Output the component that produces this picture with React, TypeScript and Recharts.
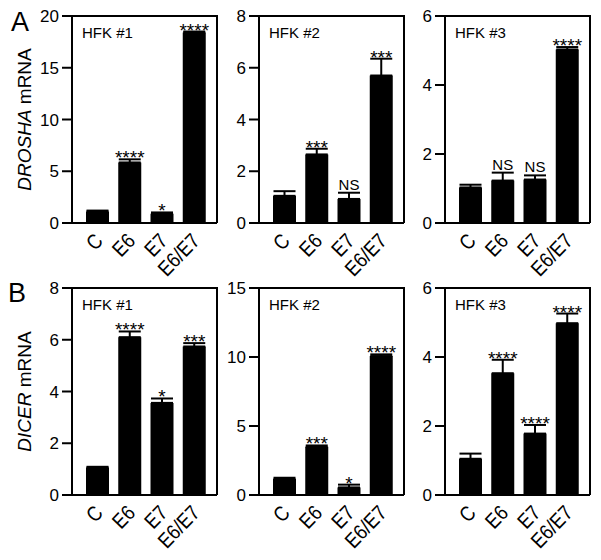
import { BarChart, Bar, XAxis, YAxis, ErrorBar, LabelList } from "recharts"

const FONT = "Arial, 'Liberation Sans', Helvetica, sans-serif"

// categories shared by every panel
const categories = ["C", "E6", "E7", "E6/E7"]

// A: DROSHA mRNA
const droshaHfk1 = [1.1, 5.85, 0.9, 18.4]
const droshaHfk1Err = [0.1, 0.3, 0.12, 0.1]
const droshaHfk1Sig = ["", "****", "*", "****"]

const droshaHfk2 = [1.05, 2.65, 0.93, 5.7]
const droshaHfk2Err = [0.18, 0.22, 0.24, 0.65]
const droshaHfk2Sig = ["", "***", "NS", "***"]

const droshaHfk3 = [1.03, 1.23, 1.26, 5.03]
const droshaHfk3Err = [0.08, 0.23, 0.12, 0.07]
const droshaHfk3Sig = ["", "NS", "NS", "****"]

// B: DICER mRNA
const dicerHfk1 = [1.06, 6.1, 3.56, 5.74]
const dicerHfk1Err = [0.03, 0.22, 0.17, 0.13]
const dicerHfk1Sig = ["", "****", "*", "***"]

const dicerHfk2 = [1.16, 3.49, 0.55, 10.07]
const dicerHfk2Err = [0.09, 0.1, 0.2, 0.12]
const dicerHfk2Sig = ["", "***", "*", "****"]

const dicerHfk3 = [1.05, 3.53, 1.78, 4.98]
const dicerHfk3Err = [0.15, 0.39, 0.25, 0.28]
const dicerHfk3Sig = ["", "****", "****", "****"]

// y-axis ticks per panel
const ticks20 = [0, 5, 10, 15, 20]
const ticks15 = [0, 5, 10, 15]
const ticks8 = [0, 2, 4, 6, 8]
const ticks6 = [0, 2, 4, 6]

type Row = { name: string; value: number; err: number[]; errHigh: number; sig: string }

function toRows(values: number[], errs: number[], sig: string[]): Row[] {
  return categories.map((name, i) => ({
    name,
    value: values[i],
    err: [0, errs[i]],
    errHigh: errs[i],
    sig: sig[i],
  }))
}

const CHART_W = 222
const CHART_H = 288
const PLOT_TOP = 16
const PLOT_H = 207
const PLOT_W = 145
const Y_AXIS_W = 72
const colLeft = [0, 187, 373]
const rowTop = [0, 272]

function XTick(props: any) {
  const { x, y, payload } = props
  const ax = x + 7
  const ay = y + 11
  return (
    <g transform={`translate(${ax} ${ay}) rotate(-46) scale(0.86 1)`}>
      <text x={0} y={0} textAnchor="end" fontSize={21} fontFamily={FONT} fill="#000">
        {payload.value}
      </text>
    </g>
  )
}

function sigContent(rows: Row[]) {
  return (props: any) => {
    const { x, y, width, height, index } = props
    const row = rows[index]
    if (!row || !row.sig) return null
    const capY = y - (row.errHigh * height) / row.value
    const stars = row.sig !== "NS"
    return (
      <text
        x={x + width / 2}
        y={stars ? capY + 5 : capY - 3}
        textAnchor="middle"
        fontSize={stars ? 19 : 15}
        fontFamily={FONT}
        fill="#000"
      >
        {row.sig}
      </text>
    )
  }
}

function yLabel(gene: string) {
  return (props: any) => {
    const vb = props.viewBox || {}
    const cy = (vb.y ?? PLOT_TOP) + (vb.height ?? PLOT_H) / 2
    const cx = 24
    return (
      <text
        x={cx}
        y={cy}
        transform={`rotate(-90 ${cx} ${cy})`}
        textAnchor="middle"
        dominantBaseline="central"
        fontSize={19}
        fontFamily={FONT}
        fill="#000"
      >
        <tspan fontStyle="italic">{gene}</tspan>
        <tspan> mRNA</tspan>
      </text>
    )
  }
}

type PanelProps = {
  rows: Row[]
  max: number
  ticks: number[]
  left: number
  top: number
  gene?: string
}

function Panel({ rows, max, ticks, left, top, gene }: PanelProps) {
  const line = { stroke: "#000", strokeWidth: 2 }
  return (
    <div style={{ position: "absolute", left, top }}>
      <BarChart
        width={CHART_W}
        height={CHART_H}
        data={rows}
        margin={{ top: PLOT_TOP, right: 5, bottom: 0, left: 0 }}
        barSize={23}
      >
        <XAxis
          dataKey="name"
          interval={0}
          padding={{ left: 9, right: 7 }}
          axisLine={line}
          tickLine={false}
          tick={<XTick />}
          height={CHART_H - PLOT_TOP - PLOT_H}
        />
        <YAxis
          domain={[0, max]}
          ticks={ticks}
          width={Y_AXIS_W}
          axisLine={line}
          tickLine={line}
          tickSize={10}
          tickMargin={3}
          tick={{ fill: "#000", fontSize: 17, fontFamily: FONT }}
          label={gene ? { content: yLabel(gene) } : undefined}
        />
        <Bar dataKey="value" fill="#000" isAnimationActive={false}>
          <ErrorBar dataKey="err" width={11} stroke="#000" strokeWidth={2} direction="y" />
          <LabelList dataKey="sig" content={sigContent(rows)} />
        </Bar>
      </BarChart>
    </div>
  )
}

export default function App() {
  const panels = [
    { rows: toRows(droshaHfk1, droshaHfk1Err, droshaHfk1Sig), max: 20, ticks: ticks20, gene: "DROSHA" },
    { rows: toRows(droshaHfk2, droshaHfk2Err, droshaHfk2Sig), max: 8, ticks: ticks8 },
    { rows: toRows(droshaHfk3, droshaHfk3Err, droshaHfk3Sig), max: 6, ticks: ticks6 },
    { rows: toRows(dicerHfk1, dicerHfk1Err, dicerHfk1Sig), max: 8, ticks: ticks8, gene: "DICER" },
    { rows: toRows(dicerHfk2, dicerHfk2Err, dicerHfk2Sig), max: 15, ticks: ticks15 },
    { rows: toRows(dicerHfk3, dicerHfk3Err, dicerHfk3Sig), max: 6, ticks: ticks6 },
  ]
  const hfk = ["HFK #1", "HFK #2", "HFK #3"]

  return (
    <div
      style={{
        position: "absolute",
        left: 0,
        top: 0,
        width: 601,
        height: 560,
        background: "#fff",
        fontFamily: FONT,
      }}
    >
      {panels.map((p, i) => (
        <Panel
          key={i}
          rows={p.rows}
          max={p.max}
          ticks={p.ticks}
          gene={p.gene}
          left={colLeft[i % 3]}
          top={rowTop[Math.floor(i / 3)]}
        />
      ))}
      <svg
        width={601}
        height={560}
        style={{ position: "absolute", left: 0, top: 0, pointerEvents: "none" }}
      >
        <text x={11} y={31} fontSize={27} fontFamily={FONT} fill="#000">A</text>
        <text x={8} y={302} fontSize={27} fontFamily={FONT} fill="#000">B</text>
        {rowTop.map((rt) =>
          colLeft.map((cl, c) => (
            <g key={`${rt}-${c}`}>
              {/* top and right edges of the frame */}
              <polyline
                points={`${cl + Y_AXIS_W},${rt + PLOT_TOP} ${cl + Y_AXIS_W + PLOT_W},${rt + PLOT_TOP} ${cl + Y_AXIS_W + PLOT_W},${rt + PLOT_TOP + PLOT_H}`}
                fill="none"
                stroke="#000"
                strokeWidth={2}
              />
              <text
                x={cl + Y_AXIS_W + 10}
                y={rt + PLOT_TOP + 22}
                fontSize={15}
                fontFamily={FONT}
                fill="#000"
              >
                {hfk[c]}
              </text>
            </g>
          ))
        )}
      </svg>
    </div>
  )
}
